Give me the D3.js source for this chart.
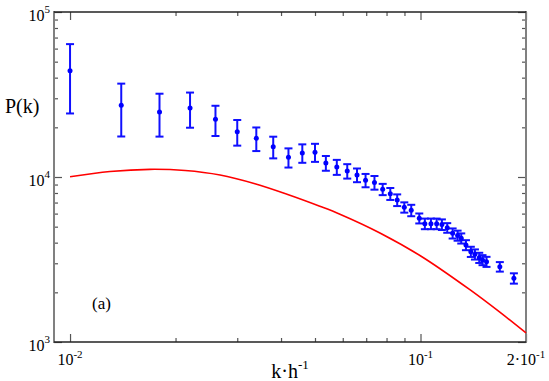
<!DOCTYPE html>
<html>
<head>
<meta charset="utf-8">
<script src="https://cdn.jsdelivr.net/npm/d3@7"></script>
<style>
  body { margin: 0; background: #fff; }
</style>
</head>
<body>
<script>
// measured points with error bars
var kObs = [0.0100, 0.0140, 0.0180, 0.0220, 0.0260, 0.0300, 0.0340, 0.0380, 0.0420, 0.0460,
            0.0500, 0.0537, 0.0577, 0.0618, 0.0659, 0.0697, 0.0739, 0.0780, 0.0820, 0.0858,
            0.0899, 0.0941, 0.0992, 0.1029, 0.1071, 0.1112, 0.1151, 0.1192, 0.1235, 0.1276,
            0.1307, 0.1348, 0.1392, 0.1430, 0.1471, 0.1503, 0.1543, 0.1684, 0.1847];
var pObs = [44070, 27200, 24770, 26190, 22370, 18820, 17160, 15260, 13160, 13980,
            14120, 12160, 11500, 10870, 10280, 9550, 9260, 8424, 7920, 7255,
            6551, 6284, 5620, 5212, 5212, 5212, 5154, 4922, 4558, 4420,
            4251, 3871, 3527, 3400, 3243, 3141, 3067, 2860, 2433];
var pErr = [19800, 9600, 7200, 6300, 4650, 3330, 2800, 2290, 1750, 1790,
            1770, 1250, 1200, 1090, 980, 885, 880, 660, 660, 590,
            470, 500, 390, 385, 385, 385, 380, 330, 320, 310,
            300, 270, 250, 240, 230, 220, 215, 190, 175];

// model curve
var kModel = [0.0100, 0.0130, 0.0169, 0.0213, 0.0268, 0.0337, 0.0416, 0.0516, 0.0589, 0.0766,
              0.1004, 0.1383, 0.1684, 0.2000];
var pModel = [10040, 10800, 11130, 10950, 10280, 9100, 7860, 6650, 5950, 4580,
              3310, 2075, 1516, 1134];

var xMinorTicks = [0.02, 0.03, 0.04, 0.05, 0.06, 0.07, 0.08, 0.09];
var xMajorTicks = [0.01, 0.1, 0.2];
var xTickLabels = [['10', '-2'], ['10', '-1'], ['2\u00b710', '-1']];
var yMinorTicks = [2e3, 3e3, 4e3, 5e3, 6e3, 7e3, 8e3, 9e3, 2e4, 3e4, 4e4, 5e4, 6e4, 7e4, 8e4, 9e4];
var yMajorTicks = [1e3, 1e4, 1e5];
var yTickLabels = [['10', '3'], ['10', '4'], ['10', '5']];

var FONT = '"Times New Roman", Times, "Liberation Serif", "DejaVu Serif", "Noto Serif", serif';
var width = 549, height = 381;
var mLeft = 54, mRight = 526, mTop = 12, mBottom = 342;

var svg = d3.select('body').append('svg')
    .attr('width', width)
    .attr('height', height)
    .style('font-family', FONT);

var x = d3.scaleLog().domain([0.009, 0.2]).range([mLeft, mRight]);
var y = d3.scaleLog().domain([1e3, 1e5]).range([mBottom, mTop]);

// ticks, all pointing inward
function ticks(axisFn, scale, values, size, pos) {
  var g = svg.append('g')
      .attr('transform', pos)
      .call(axisFn(scale).tickValues(values).tickSize(size).tickSizeOuter(0).tickFormat(''));
  g.select('.domain').remove();
  g.selectAll('line').attr('stroke', '#555').attr('stroke-width', 1.2);
}
ticks(d3.axisBottom, x, xMinorTicks, -4, 'translate(0,' + mBottom + ')');
ticks(d3.axisBottom, x, xMajorTicks, -8, 'translate(0,' + mBottom + ')');
ticks(d3.axisTop, x, xMinorTicks, -4, 'translate(0,' + mTop + ')');
ticks(d3.axisTop, x, xMajorTicks, -8, 'translate(0,' + mTop + ')');
ticks(d3.axisLeft, y, yMinorTicks, -4, 'translate(' + mLeft + ',0)');
ticks(d3.axisLeft, y, yMajorTicks, -8, 'translate(' + mLeft + ',0)');
ticks(d3.axisRight, y, yMinorTicks, -4, 'translate(' + mRight + ',0)');
ticks(d3.axisRight, y, yMajorTicks, -8, 'translate(' + mRight + ',0)');

// frame
svg.append('line').attr('x1', mLeft).attr('x2', mLeft).attr('y1', mTop - 1).attr('y2', mBottom + 1)
    .attr('stroke', '#808080').attr('stroke-width', 2);
svg.append('line').attr('x1', mRight).attr('x2', mRight).attr('y1', mTop - 1).attr('y2', mBottom + 1)
    .attr('stroke', '#808080').attr('stroke-width', 2);
svg.append('line').attr('x1', mLeft).attr('x2', mRight).attr('y1', mTop).attr('y2', mTop)
    .attr('stroke', '#222').attr('stroke-width', 1.5);
svg.append('line').attr('x1', mLeft).attr('x2', mRight).attr('y1', mBottom).attr('y2', mBottom)
    .attr('stroke', '#222').attr('stroke-width', 1.5);

// tick labels
var xl = svg.selectAll('text.xtick')
    .data(xMajorTicks)
    .enter()
    .append('text')
    .attr('class', 'xtick')
    .attr('x', function(d) { return x(d); })
    .attr('y', 365)
    .attr('text-anchor', 'middle')
    .style('font-family', FONT)
    .style('font-size', '16px');
xl.append('tspan').text(function(d, i) { return xTickLabels[i][0]; });
xl.append('tspan').attr('dy', -7).style('font-size', '11px')
    .text(function(d, i) { return xTickLabels[i][1]; });

var yl = svg.selectAll('text.ytick')
    .data(yMajorTicks)
    .enter()
    .append('text')
    .attr('class', 'ytick')
    .attr('x', 50)
    .attr('y', function(d) { return y(d) + 9; })
    .attr('text-anchor', 'end')
    .style('font-family', FONT)
    .style('font-size', '16px');
yl.append('tspan').text(function(d, i) { return yTickLabels[i][0]; });
yl.append('tspan').attr('dy', -8).style('font-size', '11px')
    .text(function(d, i) { return yTickLabels[i][1]; });

// axis titles
var xt = svg.append('text')
    .attr('x', 290)
    .attr('y', 378)
    .attr('text-anchor', 'middle')
    .style('font-family', FONT)
    .style('font-size', '20px');
xt.append('tspan').text('k\u00b7h');
xt.append('tspan').attr('dy', -9).style('font-size', '13px').text('-1');

svg.append('text')
    .attr('x', 5)
    .attr('y', 113)
    .style('font-family', FONT)
    .style('font-size', '20px')
    .text('P(k)');

svg.append('text')
    .attr('x', 92)
    .attr('y', 309)
    .style('font-family', FONT)
    .style('font-size', '17px')
    .text('(a)');

// model curve
var modelData = kModel.map(function(k, i) { return [k, pModel[i]]; });
svg.append('path')
    .datum(modelData)
    .attr('fill', 'none')
    .attr('stroke', '#ff0000')
    .attr('stroke-width', 1.6)
    .attr('d', d3.line()
        .x(function(d) { return x(d[0]); })
        .y(function(d) { return y(d[1]); })
        .curve(d3.curveCatmullRom));

// error bars and points
var obs = kObs.map(function(k, i) { return { k: k, p: pObs[i], e: pErr[i] }; });
var cap = 4;
var bars = svg.append('g').attr('stroke', '#1010ff').attr('stroke-width', 2);

bars.selectAll('line.v')
    .data(obs)
    .enter()
    .append('line')
    .attr('class', 'v')
    .attr('x1', function(d) { return x(d.k); })
    .attr('x2', function(d) { return x(d.k); })
    .attr('y1', function(d) { return y(d.p + d.e); })
    .attr('y2', function(d) { return y(d.p - d.e); });

bars.selectAll('line.top')
    .data(obs)
    .enter()
    .append('line')
    .attr('class', 'top')
    .attr('x1', function(d) { return x(d.k) - cap; })
    .attr('x2', function(d) { return x(d.k) + cap; })
    .attr('y1', function(d) { return y(d.p + d.e); })
    .attr('y2', function(d) { return y(d.p + d.e); });

bars.selectAll('line.bot')
    .data(obs)
    .enter()
    .append('line')
    .attr('class', 'bot')
    .attr('x1', function(d) { return x(d.k) - cap; })
    .attr('x2', function(d) { return x(d.k) + cap; })
    .attr('y1', function(d) { return y(d.p - d.e); })
    .attr('y2', function(d) { return y(d.p - d.e); });

svg.selectAll('circle')
    .data(obs)
    .enter()
    .append('circle')
    .attr('cx', function(d) { return x(d.k); })
    .attr('cy', function(d) { return y(d.p); })
    .attr('r', 2.5)
    .attr('fill', '#0000ff');
</script>
</body>
</html>
